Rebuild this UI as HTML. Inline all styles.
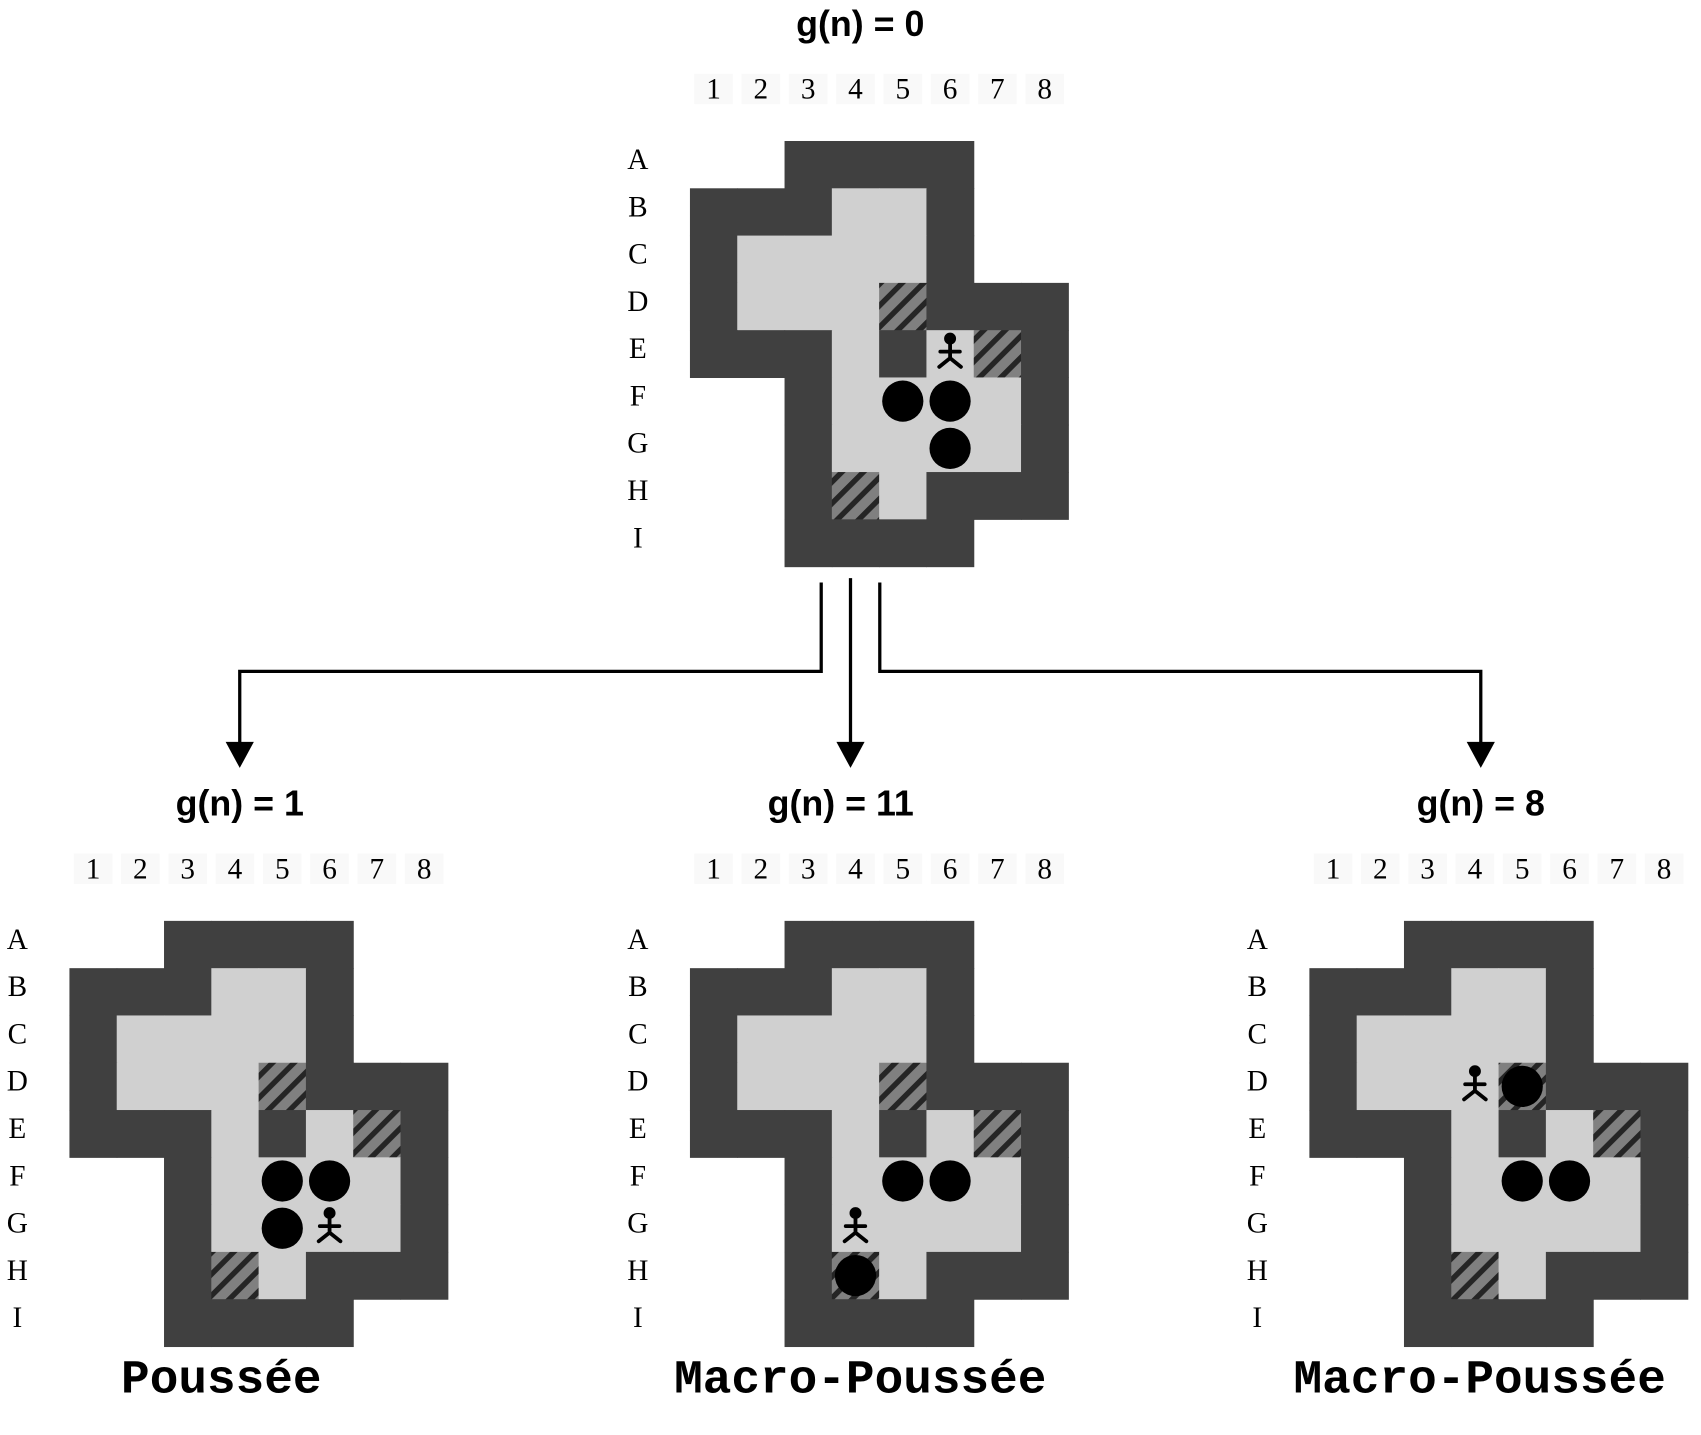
<!DOCTYPE html>
<html><head><meta charset="utf-8"><style>
html,body{margin:0;padding:0;background:#fff;}
svg{display:block;}
</style></head><body>
<svg id="fig" width="1701" height="1435" viewBox="0 0 1568 1323" preserveAspectRatio="none" xmlns="http://www.w3.org/2000/svg">
<defs>
<pattern id="hatch" patternUnits="userSpaceOnUse" width="14" height="14" patternTransform="rotate(45)">
<rect width="14" height="14" fill="#808080"/><rect width="5" height="14" fill="#252525"/>
</pattern>
</defs>
<g id="arrows" stroke="#000" stroke-width="3" fill="none">
<polyline points="757,537 757,619 221,619 221,688"/>
<polyline points="784,533 784,688"/>
<polyline points="811,537 811,619 1365,619 1365,688"/>
</g>
<g fill="#000">
<polygon points="208,684 234,684 221,708"/>
<polygon points="771,684 797,684 784,708"/>
<polygon points="1352,684 1378,684 1365,708"/>
</g>
</svg>
<script>
const map = [
 "  ####  ",
 "###  #  ",
 "#    #  ",
 "#   .###",
 "### #@.#",
 "  #    #",
 "  #    #",
 "  #. ###",
 "  ####  "
];
const colLabels = ["1","2","3","4","5","6","7","8"];
const rowLabels = ["A","B","C","D","E","F","G","H","I"];
const states = [
 {name:"root", title:"g(n) = 0", caption:"", x:636, y:130, tx:793, boxes:[[5,4],[5,5],[6,5]], player:[4,5]},
 {name:"push", title:"g(n) = 1", caption:"Poussée", x:64, y:849, tx:221, boxes:[[5,4],[5,5],[6,4]], player:[6,5]},
 {name:"macro-11", title:"g(n) = 11", caption:"Macro-Poussée", x:636, y:849, tx:775, boxes:[[5,4],[5,5],[7,3]], player:[6,3]},
 {name:"macro-8", title:"g(n) = 8", caption:"Macro-Poussée", x:1207, y:849, tx:1365, boxes:[[3,4],[5,4],[5,5]], player:[3,3]}
];
const NS="http://www.w3.org/2000/svg";
const svg=document.getElementById('fig');
const C=43.6;
function mk(t,a,p){const e=document.createElementNS(NS,t);for(const k in a)e.setAttribute(k,a[k]);(p||svg).appendChild(e);return e;}
states.forEach(s=>{
 const g=mk('g',{});
 
 
 const t=mk('text',{x:s.tx,y:s.y-97,'text-anchor':'middle','font-family':'Liberation Sans, sans-serif','font-weight':'bold','font-size':'33'},g);
 t.textContent=s.title;
 
 
 colLabels.forEach((l,i)=>{
  mk('rect',{x:s.x+i*C+4,y:s.y-62,width:C-8,height:28,fill:'#f9f9f9'},g);
  const tt=mk('text',{x:s.x+i*C+C/2,y:s.y-39,'text-anchor':'middle','font-family':'Liberation Serif, serif','font-size':'27'},g);
  tt.textContent=l;
  
  
 });
 rowLabels.forEach((l,j)=>{
  const tt=mk('text',{x:s.x-48,y:s.y+j*C+C/2+4,'text-anchor':'middle','font-family':'Liberation Serif, serif','font-size':'27'},g);
  tt.textContent=l;
  
  
 });
 map.forEach((row,j)=>{
  for(let i=0;i<8;i++){
   const ch=row[i];
   let fill=null;
   if(ch==='#')fill='#404040';else if(ch==='.')fill='url(#hatch)';else if(ch===' '){
     const inside=(row.slice(0,i).includes('#')&&row.slice(i).includes('#'));
     if(inside)fill='#d0d0d0';
   } else fill='#d0d0d0';
   if(fill){
    const r=mk('rect',{x:s.x+i*C,y:s.y+j*C,width:C+0.5,height:C+0.5,fill:fill},g);
    
    
   }
  }
 });
 s.boxes.forEach(b=>{
  const c=mk('circle',{cx:s.x+b[1]*C+C/2,cy:s.y+b[0]*C+C/2,r:19,fill:'#000'},g);
  
  
 });
 const px=s.x+s.player[1]*C+C/2, py=s.y+s.player[0]*C+C/2;
 const p=mk('g',{stroke:'#000','stroke-width':'3.5',fill:'none','stroke-linecap':'round'},g);
 
 
 mk('circle',{cx:px,cy:py-14,r:5.5,fill:'#000',stroke:'none'},p);
 mk('path',{d:`M${px} ${py-9} L${px} ${py+4} M${px-9} ${py-2} L${px+9} ${py-2} M${px} ${py+4} L${px-10} ${py+12} M${px} ${py+4} L${px+10} ${py+12}`},p);
 if(s.caption){
  const cp=mk('text',{x:s.x+157,y:1284,'text-anchor':'middle','font-family':'Liberation Mono, monospace','font-weight':'bold','font-size':'44'},g);
  if(s.name==='push'){cp.setAttribute('x',204);}
  cp.textContent=s.caption;
  
  
 }
});
</script>
</body></html>
